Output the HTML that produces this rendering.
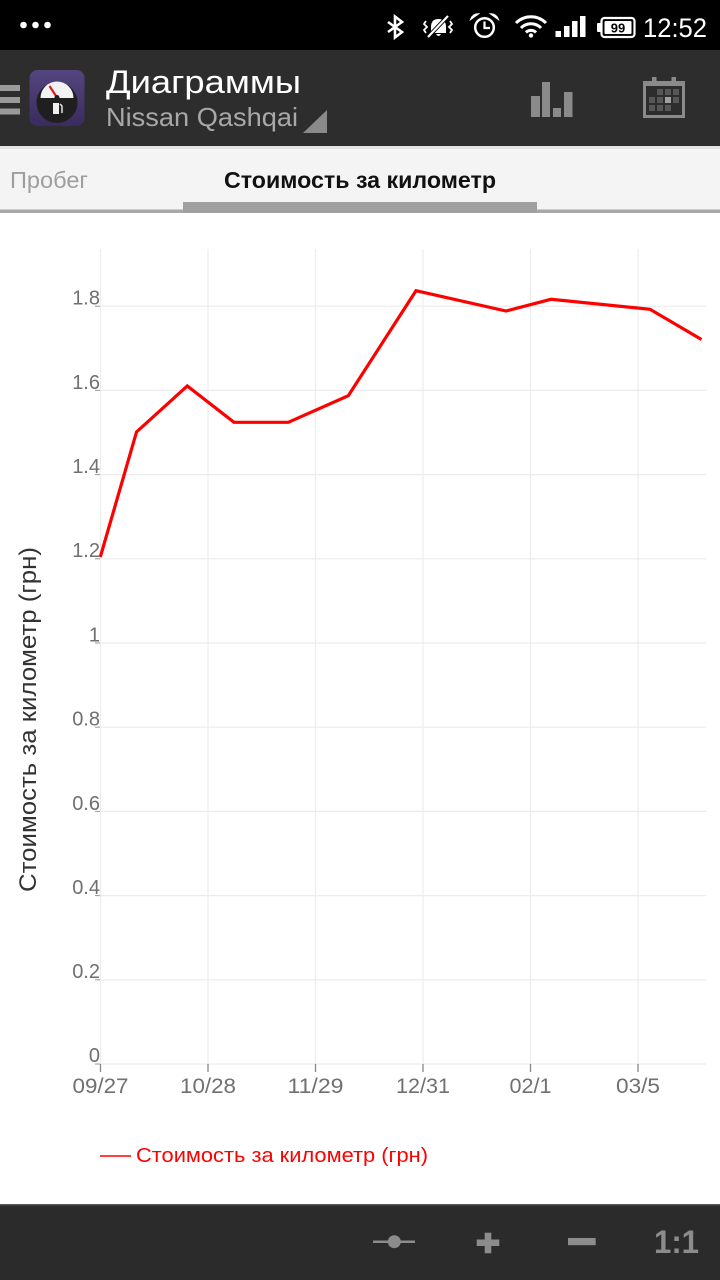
<!DOCTYPE html>
<html><head><meta charset="utf-8"><style>
html,body{margin:0;padding:0;background:#fff;}
svg{display:block;}
</style></head><body>
<svg width="720" height="1280" viewBox="0 0 720 1280" xmlns="http://www.w3.org/2000/svg" font-family="'Liberation Sans', 'Noto Sans CJK SC', sans-serif">
  <!-- background -->
  <rect x="0" y="0" width="720" height="1280" fill="#ffffff"/>

  <!-- status bar -->
  <rect x="0" y="0" width="720" height="50" fill="#000"/>
  <circle cx="23.5" cy="25" r="3.3" fill="#fff"/>
  <circle cx="35.5" cy="25" r="3.3" fill="#fff"/>
  <circle cx="47.5" cy="25" r="3.3" fill="#fff"/>
  <!-- bluetooth -->
  <polyline points="388,22 402,32 395,37.5 395,16.5 402,22 388,32" fill="none" stroke="#fff" stroke-width="2.6" stroke-linejoin="miter"/>
  <!-- mute / vibrate bell -->
  <path d="M431,33 L431,27 Q431,19 438.5,19 Q446,19 446,27 L446,33 Z" fill="#fff"/>
  <path d="M436,34 Q438.5,38 441,34 Z" fill="#fff"/>
  <line x1="428" y1="37" x2="448" y2="16" stroke="#000" stroke-width="4"/>
  <line x1="428" y1="37" x2="448" y2="16" stroke="#fff" stroke-width="2.2"/>
  <polyline points="426,21 424,24 427,27 424,30 426,33" fill="none" stroke="#fff" stroke-width="1.8"/>
  <polyline points="450,21 452,24 449,27 452,30 450,33" fill="none" stroke="#fff" stroke-width="1.8"/>
  <!-- alarm -->
  <circle cx="484.5" cy="27.5" r="9.3" fill="none" stroke="#fff" stroke-width="2.5"/>
  <polyline points="484.5,21.5 484.5,28 490,28" fill="none" stroke="#fff" stroke-width="2.2"/>
  <path d="M471,19 Q473,14 478,14 Z" fill="#fff" stroke="#fff" stroke-width="1.5"/>
  <path d="M498,19 Q496,14 491,14 Z" fill="#fff" stroke="#fff" stroke-width="1.5"/>
  <!-- wifi -->
  <path d="M516,23 A21,21 0 0 1 546,23" fill="none" stroke="#fff" stroke-width="3"/>
  <path d="M521,28 A14,14 0 0 1 541,28" fill="none" stroke="#fff" stroke-width="3"/>
  <path d="M526,32.5 A7,7 0 0 1 536,32.5" fill="none" stroke="#fff" stroke-width="3"/>
  <circle cx="531" cy="35.5" r="2.2" fill="#fff"/>
  <!-- signal -->
  <rect x="555.5" y="31" width="5.5" height="6" fill="#fff"/>
  <rect x="564" y="26" width="5.5" height="11" fill="#fff"/>
  <rect x="572" y="21" width="5.5" height="16" fill="#fff"/>
  <rect x="580" y="16" width="5.5" height="21" fill="#fff"/>
  <!-- battery -->
  <rect x="597" y="23" width="5" height="9" rx="1" fill="#fff"/>
  <rect x="601.5" y="18" width="33" height="19" rx="3" fill="none" stroke="#fff" stroke-width="2.2"/>
  <rect x="604.5" y="21" width="27" height="13" rx="1" fill="#fff"/>
  <text x="618" y="32.5" font-size="13" font-weight="bold" fill="#000" text-anchor="middle">99</text>
  <!-- time -->
  <text x="643" y="37" font-size="27" fill="#fff" textLength="64" lengthAdjust="spacingAndGlyphs">12:52</text>

  <!-- action bar -->
  <rect x="0" y="50" width="720" height="96" fill="#2d2d2d"/>
  <rect x="0" y="85" width="20" height="6" fill="#9a9a9a"/>
  <rect x="0" y="97" width="20" height="6" fill="#9a9a9a"/>
  <rect x="0" y="108.5" width="20" height="6" fill="#9a9a9a"/>
  <!-- app icon -->
  <defs>
    <linearGradient id="pg" x1="0" y1="0" x2="0" y2="1">
      <stop offset="0" stop-color="#55457f"/>
      <stop offset="1" stop-color="#3a2c5e"/>
    </linearGradient>
  </defs>
  <rect x="29.5" y="70" width="55" height="56" rx="8" fill="url(#pg)"/>
  <circle cx="57" cy="102.5" r="20.5" fill="#1f1f1f"/>
  <path d="M40.5,98 A16.5,16.5 0 0 1 73.5,98 Z" fill="#f2f2f2"/>
  <line x1="49.5" y1="86" x2="56" y2="96" stroke="#d42020" stroke-width="2.2"/>
  <circle cx="57" cy="97.5" r="2.5" fill="#1f1f1f"/>
  <rect x="53" y="103" width="6" height="11" fill="#f0f0f0"/>
  <path d="M60,104 L62,106 L62,113" fill="none" stroke="#f0f0f0" stroke-width="1.4"/>
  <!-- titles -->
  <text x="106" y="93" font-size="32" fill="#ffffff" textLength="195" lengthAdjust="spacingAndGlyphs">Диаграммы</text>
  <text x="106" y="126" font-size="26" fill="#a8a8a8" textLength="192" lengthAdjust="spacingAndGlyphs">Nissan Qashqai</text>
  <polygon points="303,133 327,133 327,110" fill="#8a8a8a"/>
  <!-- bar chart icon -->
  <rect x="531" y="96" width="9" height="21" fill="#8a8a8a"/>
  <rect x="542" y="82" width="8" height="35" fill="#8a8a8a"/>
  <rect x="553" y="108" width="8" height="9" fill="#8a8a8a"/>
  <rect x="564" y="92" width="8.5" height="25" fill="#8a8a8a"/>
  <!-- calendar icon -->
  <rect x="644.5" y="82.5" width="39" height="34" fill="none" stroke="#8a8a8a" stroke-width="3"/>
  <rect x="644.5" y="81" width="39" height="5" fill="#8a8a8a"/>
  <rect x="652" y="77" width="4.5" height="6" fill="#8a8a8a"/>
  <rect x="671.5" y="77" width="4.5" height="6" fill="#8a8a8a"/>
  <g fill="#575757">
    <rect x="657" y="89" width="6" height="6"/>
    <rect x="665" y="89" width="6" height="6"/>
    <rect x="673" y="89" width="6" height="6"/>
    <rect x="649" y="97" width="6" height="6"/>
    <rect x="657" y="97" width="6" height="6"/>
    <rect x="673" y="97" width="6" height="6"/>
    <rect x="649" y="105" width="6" height="6"/>
    <rect x="657" y="105" width="6" height="6"/>
    <rect x="665" y="105" width="6" height="6"/>
  </g>
  <rect x="665" y="97" width="6" height="6" fill="#a0a0a0"/>

  <!-- tab bar -->
  <rect x="0" y="146" width="720" height="64" fill="#f4f4f4"/>
  <rect x="0" y="146" width="720" height="3" fill="#d8d8d8" opacity="0.6"/>
  <text x="10" y="188" font-size="23" fill="#9e9e9e" textLength="78" lengthAdjust="spacingAndGlyphs">Пробег</text>
  <text x="224" y="188" font-size="23" font-weight="bold" fill="#111" textLength="272" lengthAdjust="spacingAndGlyphs">Стоимость за километр</text>
  <rect x="0" y="209.5" width="720" height="3.5" fill="#a8a8a8"/>
  <rect x="183" y="202" width="354" height="11" fill="#a0a0a0"/>

  <!-- chart grid -->
  <g stroke="#ececec" stroke-width="1.2">
    <line x1="100" y1="1064" x2="706" y2="1064"/>
    <line x1="100" y1="979.8" x2="706" y2="979.8"/>
    <line x1="100" y1="895.6" x2="706" y2="895.6"/>
    <line x1="100" y1="811.4" x2="706" y2="811.4"/>
    <line x1="100" y1="727.2" x2="706" y2="727.2"/>
    <line x1="100" y1="643" x2="706" y2="643"/>
    <line x1="100" y1="558.8" x2="706" y2="558.8"/>
    <line x1="100" y1="474.6" x2="706" y2="474.6"/>
    <line x1="100" y1="390.4" x2="706" y2="390.4"/>
    <line x1="100" y1="306.2" x2="706" y2="306.2"/>
    <line x1="100.5" y1="249" x2="100.5" y2="1064"/>
    <line x1="208" y1="249" x2="208" y2="1064"/>
    <line x1="315.5" y1="249" x2="315.5" y2="1064"/>
    <line x1="423" y1="249" x2="423" y2="1064"/>
    <line x1="530.5" y1="249" x2="530.5" y2="1064"/>
    <line x1="638" y1="249" x2="638" y2="1064"/>
  </g>
  <!-- y ticks -->
  <g stroke="#999" stroke-width="1">
    <line x1="95" y1="1064" x2="100" y2="1064"/>
    <line x1="95" y1="979.8" x2="100" y2="979.8"/>
    <line x1="95" y1="895.6" x2="100" y2="895.6"/>
    <line x1="95" y1="811.4" x2="100" y2="811.4"/>
    <line x1="95" y1="727.2" x2="100" y2="727.2"/>
    <line x1="95" y1="643" x2="100" y2="643"/>
    <line x1="95" y1="558.8" x2="100" y2="558.8"/>
    <line x1="95" y1="474.6" x2="100" y2="474.6"/>
    <line x1="95" y1="390.4" x2="100" y2="390.4"/>
    <line x1="95" y1="306.2" x2="100" y2="306.2"/>
  </g>
  <!-- x ticks -->
  <g stroke="#888" stroke-width="1.3">
    <line x1="100.5" y1="1064" x2="100.5" y2="1072"/>
    <line x1="208" y1="1064" x2="208" y2="1072"/>
    <line x1="315.5" y1="1064" x2="315.5" y2="1072"/>
    <line x1="423" y1="1064" x2="423" y2="1072"/>
    <line x1="530.5" y1="1064" x2="530.5" y2="1072"/>
    <line x1="638" y1="1064" x2="638" y2="1072"/>
  </g>
  <!-- y labels -->
  <g font-size="20" fill="#707070" text-anchor="end">
    <text x="100" y="1062">0</text>
    <text x="100" y="978">0.2</text>
    <text x="100" y="894">0.4</text>
    <text x="100" y="810">0.6</text>
    <text x="100" y="725.5">0.8</text>
    <text x="100" y="641.5">1</text>
    <text x="100" y="557">1.2</text>
    <text x="100" y="473">1.4</text>
    <text x="100" y="389">1.6</text>
    <text x="100" y="304.5">1.8</text>
  </g>
  <!-- x labels -->
  <g font-size="21" fill="#707070" text-anchor="middle">
    <text x="100.5" y="1093" textLength="56" lengthAdjust="spacingAndGlyphs">09/27</text>
    <text x="208" y="1093" textLength="56" lengthAdjust="spacingAndGlyphs">10/28</text>
    <text x="315.5" y="1093" textLength="56" lengthAdjust="spacingAndGlyphs">11/29</text>
    <text x="423" y="1093" textLength="54" lengthAdjust="spacingAndGlyphs">12/31</text>
    <text x="530.5" y="1093" textLength="42" lengthAdjust="spacingAndGlyphs">02/1</text>
    <text x="638" y="1093" textLength="44" lengthAdjust="spacingAndGlyphs">03/5</text>
  </g>
  <!-- axis title -->
  <text transform="translate(36,719.5) rotate(-90)" font-size="24" fill="#333" text-anchor="middle" textLength="345" lengthAdjust="spacingAndGlyphs">Стоимость за километр (грн)</text>

  <!-- series -->
  <polyline points="100.3,557 136.5,432 187.3,386 234,422.3 288.3,422.3 348.3,395.7 416,290.7 506,311 551,299.3 650,309.3 701.5,339.5" fill="none" stroke="#ff0000" stroke-width="3.2" stroke-linejoin="miter"/>

  <!-- legend -->
  <line x1="100" y1="1156" x2="131" y2="1156" stroke="#ff0000" stroke-width="1.5"/>
  <text x="136" y="1162" font-size="20" fill="#ff0000" textLength="292" lengthAdjust="spacingAndGlyphs">Стоимость за километр (грн)</text>

  <!-- bottom bar -->
  <rect x="0" y="1204" width="720" height="76" fill="#2b2b2b"/>
  <rect x="0" y="1204" width="720" height="1.5" fill="#555"/>
  <line x1="373" y1="1241.7" x2="415" y2="1241.7" stroke="#8c8c8c" stroke-width="2.5"/>
  <circle cx="394.3" cy="1241.7" r="6.5" fill="#8c8c8c"/>
  <rect x="476.7" y="1239.5" width="22.6" height="6.5" fill="#8c8c8c"/>
  <rect x="484.7" y="1232.7" width="6.6" height="20.6" fill="#8c8c8c"/>
  <rect x="568" y="1238" width="27.7" height="7.2" fill="#8c8c8c"/>
  <text x="654" y="1253" font-size="32" font-weight="bold" fill="#8c8c8c" textLength="45" lengthAdjust="spacingAndGlyphs">1:1</text>
</svg>
</body></html>
